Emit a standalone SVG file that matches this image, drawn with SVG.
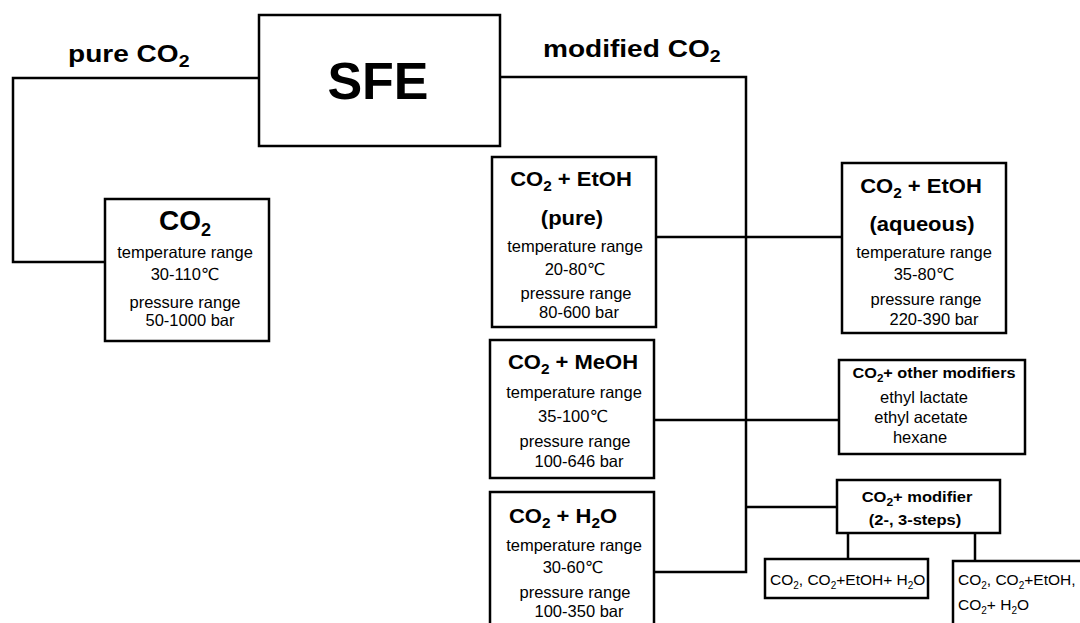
<svg xmlns="http://www.w3.org/2000/svg" width="1080" height="623" viewBox="0 0 1080 623">
<style>
.box{fill:#fff;stroke:#000;stroke-width:2.5}
.ln{fill:none;stroke:#000;stroke-width:2.5}
text{font-family:"Liberation Sans",Arial,"DejaVu Sans",sans-serif;fill:#000}
.h{font-weight:bold}
.t{font-size:16.5px;text-anchor:middle}
.m{text-anchor:middle}
</style>
<rect width="1080" height="623" fill="#fff"/>
<g id="connectors">
<path class="ln" d="M259,78 H13 V262 H105"/>
<path class="ln" d="M500,77 H746 V572 H654"/>
<path class="ln" d="M656,237 H842"/>
<path class="ln" d="M654,420 H839"/>
<path class="ln" d="M746,507 H837"/>
<path class="ln" d="M848,533 V559"/>
<path class="ln" d="M975,533 V561"/>
</g>
<g id="label-pure">
<text class="h" font-size="23" transform="translate(68,62) scale(1.22,1)">pure CO<tspan font-size="16" dy="5">2</tspan></text>
</g>
<g id="label-modified">
<text class="h" font-size="23" transform="translate(543,57) scale(1.22,1)">modified CO<tspan font-size="16" dy="5">2</tspan></text>
</g>
<g id="node-sfe">
<rect class="box" x="259" y="15" width="241" height="131"/>
<text class="h m" x="378" y="99" font-size="52">SFE</text>
</g>
<g id="node-co2">
<rect class="box" x="105" y="199" width="164" height="142"/>
<text class="h m" x="185" y="230" font-size="28">CO<tspan font-size="18" dy="6">2</tspan></text>
<text class="t" x="185" y="258">temperature range</text>
<text class="t" x="185" y="280">30-110℃</text>
<text class="t" x="185" y="308">pressure range</text>
<text class="t" x="190" y="326">50-1000 bar</text>
</g>
<g id="node-etoh-pure">
<rect class="box" x="492" y="157" width="164" height="170"/>
<text class="h m" font-size="20" transform="translate(571,186) scale(1.1,1)">CO<tspan font-size="14" dy="5">2</tspan><tspan dy="-5"> + EtOH</tspan></text>
<text class="h m" font-size="20" transform="translate(572,225) scale(1.1,1)">(pure)</text>
<text class="t" x="575" y="252">temperature range</text>
<text class="t" x="575" y="275">20-80℃</text>
<text class="t" x="576" y="299">pressure range</text>
<text class="t" x="579" y="318">80-600 bar</text>
</g>
<g id="node-etoh-aq">
<rect class="box" x="842" y="163" width="164" height="170"/>
<text class="h m" font-size="20" transform="translate(921,193) scale(1.1,1)">CO<tspan font-size="14" dy="5">2</tspan><tspan dy="-5"> + EtOH</tspan></text>
<text class="h m" font-size="20" transform="translate(922,231) scale(1.1,1)">(aqueous)</text>
<text class="t" x="924" y="258">temperature range</text>
<text class="t" x="924" y="280">35-80℃</text>
<text class="t" x="926" y="305">pressure range</text>
<text class="t" x="934" y="325">220-390 bar</text>
</g>
<g id="node-meoh">
<rect class="box" x="490" y="340" width="164" height="138"/>
<text class="h m" font-size="20" transform="translate(573,369) scale(1.1,1)">CO<tspan font-size="14" dy="5">2</tspan><tspan dy="-5"> + MeOH</tspan></text>
<text class="t" x="574" y="398">temperature range</text>
<text class="t" x="573" y="422">35-100℃</text>
<text class="t" x="575" y="447">pressure range</text>
<text class="t" x="579" y="467">100-646 bar</text>
</g>
<g id="node-h2o">
<rect class="box" x="490" y="492" width="164" height="145"/>
<text class="h m" font-size="20" transform="translate(563,523) scale(1.1,1)">CO<tspan font-size="14" dy="5">2</tspan><tspan dy="-5"> + H</tspan><tspan font-size="14" dy="5">2</tspan><tspan dy="-5">O</tspan></text>
<text class="t" x="574" y="551">temperature range</text>
<text class="t" x="573" y="573">30-60℃</text>
<text class="t" x="575" y="598">pressure range</text>
<text class="t" x="579" y="617">100-350 bar</text>
</g>
<g id="node-other">
<rect class="box" x="839" y="360" width="186" height="94"/>
<text class="h m" font-size="14" transform="translate(934,378) scale(1.16,1)">CO<tspan font-size="10" dy="4">2</tspan><tspan dy="-4">+ other modifiers</tspan></text>
<text class="t" x="924" y="403">ethyl lactate</text>
<text class="t" x="921" y="423">ethyl acetate</text>
<text class="t" x="920" y="443">hexane</text>
</g>
<g id="node-modifier">
<rect class="box" x="837" y="480" width="163" height="53"/>
<text class="h m" font-size="15" transform="translate(917,502) scale(1.1,1)">CO<tspan font-size="11" dy="4">2</tspan><tspan dy="-4">+ modifier</tspan></text>
<text class="h m" font-size="15" transform="translate(915,525) scale(1.1,1)">(2-, 3-steps)</text>
</g>
<g id="node-seq1">
<rect class="box" x="765" y="559" width="163" height="39"/>
<text x="770" y="585" font-size="15.5">CO<tspan font-size="10" dy="4">2</tspan><tspan dy="-4">, CO</tspan><tspan font-size="10" dy="4">2</tspan><tspan dy="-4">+EtOH+ H</tspan><tspan font-size="10" dy="4">2</tspan><tspan dy="-4">O</tspan></text>
</g>
<g id="node-seq2">
<rect class="box" x="953" y="561" width="140" height="70"/>
<text x="958" y="585" font-size="15.5">CO<tspan font-size="10" dy="4">2</tspan><tspan dy="-4">, CO</tspan><tspan font-size="10" dy="4">2</tspan><tspan dy="-4">+EtOH,</tspan></text>
<text x="958" y="610" font-size="15.5">CO<tspan font-size="10" dy="4">2</tspan><tspan dy="-4">+ H</tspan><tspan font-size="10" dy="4">2</tspan><tspan dy="-4">O</tspan></text>
</g>
</svg>
